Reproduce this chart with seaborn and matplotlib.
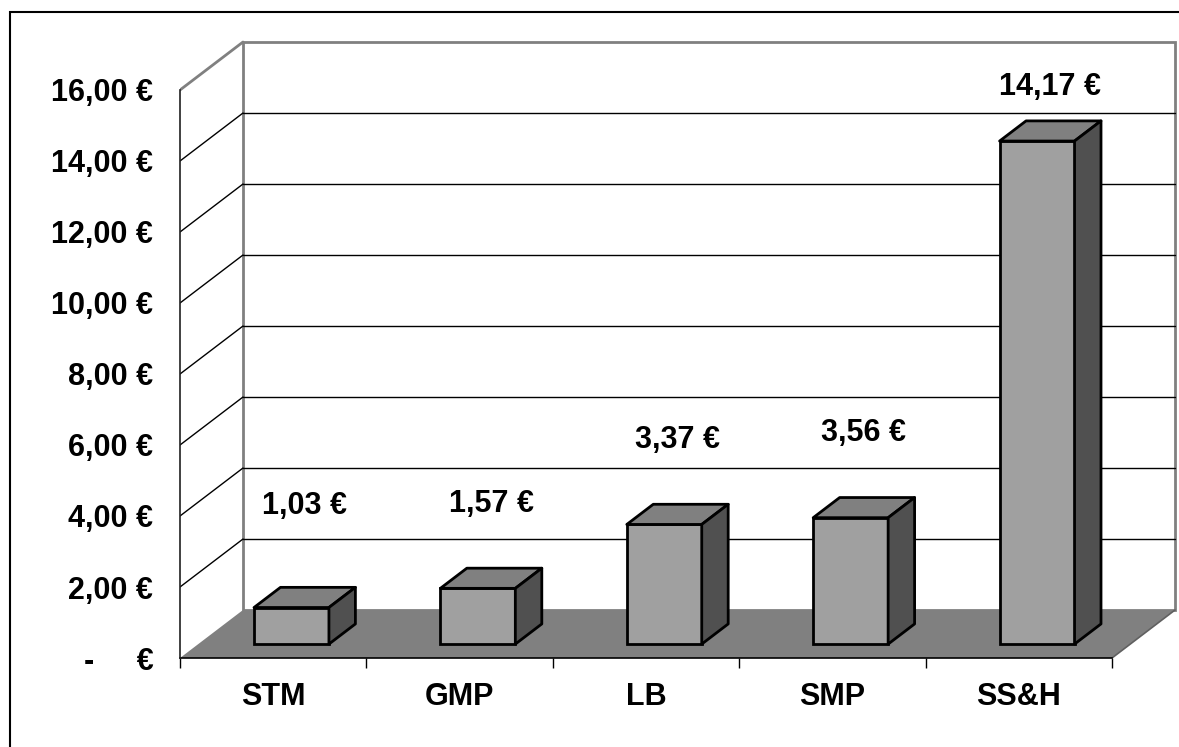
import numpy as np
import matplotlib
matplotlib.use("Agg")
import matplotlib.pyplot as plt
import matplotlib.patches as patches
import seaborn as sns

# DATA ==========================================================================
categories = ["STM", "GMP", "LB", "SMP", "SS&H"]
values = [1.03, 1.57, 3.37, 3.56, 14.17]
value_labels = ["1,03 €", "1,57 €", "3,37 €", "3,56 €", "14,17 €"]
y_ticks = [0, 2, 4, 6, 8, 10, 12, 14, 16]
y_tick_labels = ["-     €", "2,00 €", "4,00 €", "6,00 €", "8,00 €",
                 "10,00 €", "12,00 €", "14,00 €", "16,00 €"]

# 3D look (Excel style): depth of floor/back wall in data units
DX = 0.338
DY = 1.352
FRONT, BACK = 0.29, 0.71
BAR_W = 0.402
FLOOR = "#808080"
WALL_EDGE = "#808080"

sns.set_style("white")
plt.rcParams["font.family"] = ["Liberation Sans", "DejaVu Sans"]
plt.rcParams["font.weight"] = "bold"
plt.rcParams["text.color"] = "black"
plt.rcParams["xtick.color"] = "black"
plt.rcParams["ytick.color"] = "black"
plt.rcParams["axes.labelcolor"] = "black"

fig = plt.figure(figsize=(11.79, 7.47), dpi=100)
ax = fig.add_axes([180 / 1179, 89 / 747, 999 / 1179, 658 / 747])

sns.barplot(x=categories, y=values, ax=ax, color="#a0a0a0", saturation=1,
            width=BAR_W, edgecolor="black", linewidth=2)
bars = list(ax.patches)

ax.set_xlim(-0.5, -0.5 + 999 / 186.4)
ax.set_ylim(0, 658 / 35.5)

left, right = -0.5, len(categories) - 0.5

# back wall
ax.add_patch(patches.Rectangle((left + DX, DY), right - left, 16, facecolor="white",
                               edgecolor=WALL_EDGE, linewidth=2, zorder=0.5))
for v in y_ticks[1:-1]:
    ax.plot([left + DX, right + DX], [v + DY, v + DY], color="black", lw=1, zorder=0.8)
    ax.plot([left, left + DX], [v, v + DY], color="black", lw=1, zorder=0.8)
ax.plot([left, left + DX], [16, 16 + DY], color=WALL_EDGE, lw=2, zorder=0.8)

# floor
ax.add_patch(patches.Polygon([(left, 0), (right, 0), (right + DX, DY), (left + DX, DY)],
                             closed=True, facecolor=FLOOR, edgecolor="none", zorder=1))
ax.plot([right, right + DX], [0, DY], color="#606060", lw=1.2, zorder=1.1)

# bars pushed into the depth, with top and side faces
d = BACK - FRONT
for i, p in enumerate(bars):
    x0 = p.get_x() + FRONT * DX
    y0 = FRONT * DY
    w = p.get_width()
    h = p.get_height()
    p.set_x(x0)
    p.set_y(y0)
    p.set_zorder(5)
    top = [(x0, y0 + h), (x0 + w, y0 + h), (x0 + w + d * DX, y0 + h + d * DY), (x0 + d * DX, y0 + h + d * DY)]
    side = [(x0 + w, y0), (x0 + w + d * DX, y0 + d * DY), (x0 + w + d * DX, y0 + h + d * DY), (x0 + w, y0 + h)]
    ax.add_patch(patches.Polygon(top, closed=True, facecolor="#808080", edgecolor="black",
                                 linewidth=2, joinstyle="round", zorder=5))
    ax.add_patch(patches.Polygon(side, closed=True, facecolor="#505050", edgecolor="black",
                                 linewidth=2, joinstyle="round", zorder=5))
    ax.text(i + 0.5 * DX, 0.5 * DY + np.clip(values[i] + 2.1, 3.6, 15.4), value_labels[i],
            ha="center", va="center", fontsize=22, fontweight="bold", color="black", zorder=6)

# axes
for s in ["top", "right"]:
    ax.spines[s].set_visible(False)
ax.spines["left"].set_bounds(0, 16)
ax.spines["bottom"].set_bounds(left, right)
ax.spines["left"].set_color("#202020")
ax.spines["bottom"].set_color("black")
ax.spines["left"].set_linewidth(1.2)
ax.spines["bottom"].set_linewidth(1.2)
ax.set_zorder(1)
ax.spines["bottom"].set_zorder(2)

ax.set_yticks(y_ticks)
ax.set_yticklabels(y_tick_labels)
ax.tick_params(axis="y", length=7.2, width=1, pad=12, labelsize=22, colors="black")
ax.set_xticks(range(len(categories)))
ax.set_xticklabels(categories)
ax.tick_params(axis="x", which="major", length=0, pad=17, labelsize=22, labelcolor="black")
ax.set_xticks(np.arange(left, right + 0.1, 1), minor=True)
ax.tick_params(axis="x", which="minor", bottom=True, length=7.2, width=1, color="black")
ax.set_xlabel("")
ax.set_ylabel("")
ax.patch.set_alpha(0)

# chart area border
fig.patches.append(patches.Rectangle((10 / 1179, -0.05), 1.1, 0.05 + (747 - 12) / 747,
                                     transform=fig.transFigure, fill=False,
                                     edgecolor="black", linewidth=1.5))

fig.savefig("out.png", dpi=100)
